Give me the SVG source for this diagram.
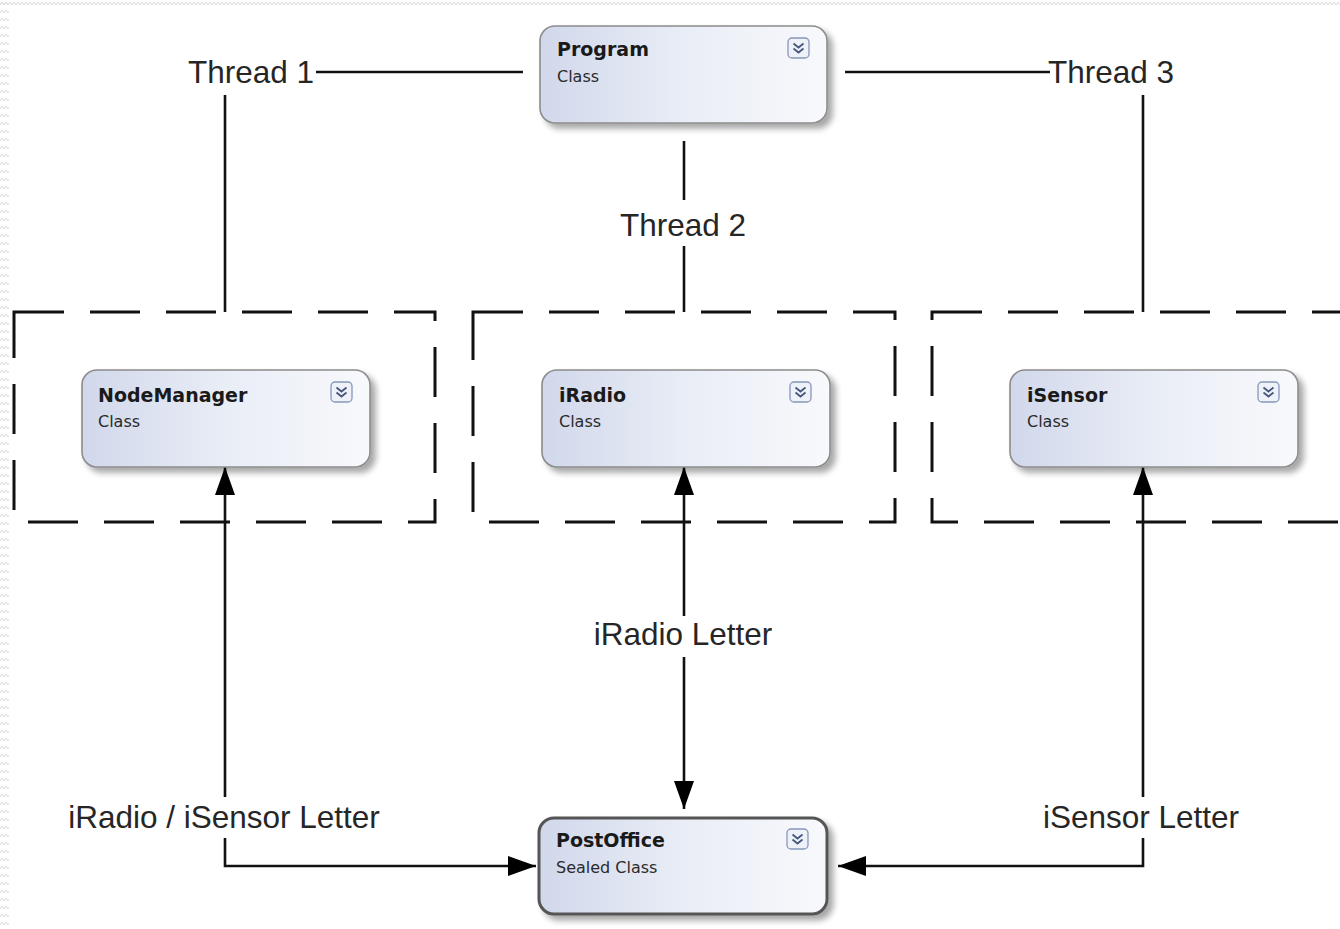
<svg xmlns="http://www.w3.org/2000/svg" xmlns:xlink="http://www.w3.org/1999/xlink" width="1340" height="929" viewBox="0 0 1340 929">
<style>
.lbl{font-family:"Liberation Sans",Arial,sans-serif;font-size:31.5px;fill:#262626}
.ttl{font-family:"DejaVu Sans",Tahoma,sans-serif;font-weight:bold;font-size:19px;fill:#1a1a1a}
.sub{font-family:"DejaVu Sans",Tahoma,sans-serif;font-size:16px;fill:#2a2a2a}
.box{fill:url(#grad);stroke:#8c8c8c;stroke-width:1.6}
.sealed{fill:url(#grad);stroke:#555;stroke-width:3}
.ln{fill:none;stroke:#111;stroke-width:2.6}
.dash{fill:none;stroke:#111;stroke-width:3;stroke-dasharray:50 26}
</style>
<defs>
<linearGradient id="grad" x1="0" y1="0" x2="1" y2="0">
<stop offset="0" stop-color="#d1d8eb"/>
<stop offset="0.5" stop-color="#e9edf6"/>
<stop offset="1" stop-color="#f8f9fc"/>
</linearGradient>
<filter id="sh" x="-10%" y="-20%" width="130%" height="150%">
<feGaussianBlur in="SourceAlpha" stdDeviation="3"/>
<feOffset dx="5" dy="5" result="b"/>
<feComponentTransfer><feFuncA type="linear" slope="0.35"/></feComponentTransfer>
<feMerge><feMergeNode/><feMergeNode in="SourceGraphic"/></feMerge>
</filter>
<marker id="arr" viewBox="0 0 28 20" refX="28" refY="10" markerWidth="28" markerHeight="20" markerUnits="userSpaceOnUse" orient="auto">
<path d="M0,0 L28,10 L0,20 z" fill="#000"/>
</marker>
<g id="btn">
<rect x="0" y="0" width="21" height="20" rx="4" fill="#eef1f8" stroke="#8797ba" stroke-width="1.3"/>
<path d="M5.5,5.5 l5,4 l5,-4 M5.5,10.5 l5,4 l5,-4" fill="none" stroke="#46567c" stroke-width="1.8"/>
</g>
<pattern id="zz" width="8" height="8" patternUnits="userSpaceOnUse">
<path d="M0,5 l2,-3 l2,3 l2,-3 l2,3" fill="none" stroke="#dcdcdc" stroke-width="1"/>
</pattern>
</defs>
<rect width="1340" height="929" fill="#fff"/>
<rect x="0" y="0" width="1340" height="7" fill="url(#zz)"/>
<rect x="0" y="0" width="9" height="929" fill="url(#zz)"/>

<g id="thread-boxes">
<rect class="dash" x="14" y="312" width="421" height="210"/>
<rect class="dash" x="473" y="312" width="422" height="210"/>
<rect class="dash" x="932" y="312" width="440" height="210"/>
</g>

<g id="connectors">
<path class="ln" d="M316,72 H523"/>
<path class="ln" d="M225,95 V312"/>
<path class="ln" d="M845,72 H1050"/>
<path class="ln" d="M1143,95 V312"/>
<path class="ln" d="M684,141 V200 M684,246 V312"/>
<path class="ln" d="M225,797 V467" marker-end="url(#arr)"/>
<path class="ln" d="M225,838 V866 H536" marker-end="url(#arr)"/>
<path class="ln" d="M1143,797 V467" marker-end="url(#arr)"/>
<path class="ln" d="M1143,838 V866 H838" marker-end="url(#arr)"/>
<path class="ln" d="M684,616 V467" marker-end="url(#arr)"/>
<path class="ln" d="M684,657 V809" marker-end="url(#arr)"/>
<text class="lbl" x="314" y="83" text-anchor="end">Thread 1</text>
<text class="lbl" x="1048" y="83">Thread 3</text>
<text class="lbl" x="683" y="236" text-anchor="middle">Thread 2</text>
<text class="lbl" x="683" y="645" text-anchor="middle">iRadio Letter</text>
<text class="lbl" x="224" y="828" text-anchor="middle">iRadio / iSensor Letter</text>
<text class="lbl" x="1141" y="828" text-anchor="middle">iSensor Letter</text>
</g>

<g id="node-program">
<rect class="box" x="540" y="26" width="287" height="97" rx="15" filter="url(#sh)"/>
<text class="ttl" x="557" y="56">Program</text>
<text class="sub" x="557" y="82">Class</text>
<use href="#btn" x="788" y="38"/>
</g>

<g id="node-nodemanager">
<rect class="box" x="82" y="370" width="288" height="97" rx="15" filter="url(#sh)"/>
<text class="ttl" x="98" y="402">NodeManager</text>
<text class="sub" x="98" y="427">Class</text>
<use href="#btn" x="331" y="382"/>
</g>

<g id="node-iradio">
<rect class="box" x="542" y="370" width="288" height="97" rx="15" filter="url(#sh)"/>
<text class="ttl" x="559" y="402">iRadio</text>
<text class="sub" x="559" y="427">Class</text>
<use href="#btn" x="790" y="382"/>
</g>

<g id="node-isensor">
<rect class="box" x="1010" y="370" width="288" height="97" rx="15" filter="url(#sh)"/>
<text class="ttl" x="1027" y="402">iSensor</text>
<text class="sub" x="1027" y="427">Class</text>
<use href="#btn" x="1258" y="382"/>
</g>

<g id="node-postoffice">
<rect class="sealed" x="539" y="818" width="288" height="96" rx="15" filter="url(#sh)"/>
<text class="ttl" x="556" y="847">PostOffice</text>
<text class="sub" x="556" y="873">Sealed Class</text>
<use href="#btn" x="787" y="829"/>
</g>
</svg>
